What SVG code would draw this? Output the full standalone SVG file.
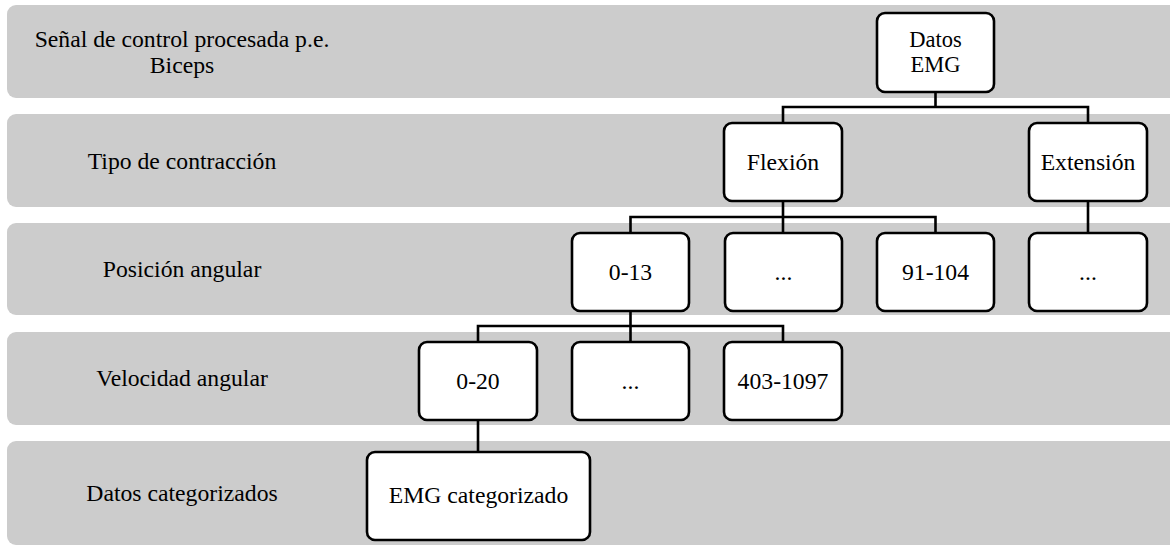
<svg xmlns="http://www.w3.org/2000/svg" width="1170" height="548" viewBox="0 0 1170 548">
  <style>
    .band { fill: #cccccc; }
    .node rect { fill: #ffffff; stroke: #000000; stroke-width: 2.6; }
    .t { font-family: 'Liberation Serif', serif; font-size: 23.7px; fill: #000000; text-anchor: middle; }
    .wire { fill: none; stroke: #000000; stroke-width: 2.6; stroke-linejoin: miter; }
  </style>

  <!-- level bands -->
  <g id="bands">
    <rect class="band" x="7" y="5" width="1180" height="93" rx="9"/>
    <rect class="band" x="7" y="114" width="1180" height="93" rx="9"/>
    <rect class="band" x="7" y="223" width="1180" height="92" rx="9"/>
    <rect class="band" x="7" y="332" width="1180" height="93" rx="9"/>
    <rect class="band" x="7" y="441" width="1180" height="104" rx="9"/>
  </g>

  <!-- level labels -->
  <g id="labels" font-family="Liberation Serif, serif">
    <text class="t" x="182" y="47">Señal de control procesada p.e.</text>
    <text class="t" x="182" y="73">Biceps</text>
    <text class="t" x="182" y="169">Tipo de contracción</text>
    <text class="t" x="182" y="277">Posición angular</text>
    <text class="t" x="182" y="386">Velocidad angular</text>
    <text class="t" x="182" y="501">Datos categorizados</text>
  </g>

  <!-- tree connectors -->
  <g id="connectors">
    <path class="wire" d="M935.5,92 V107 M783,123 V107 H1088 V123"/>
    <path class="wire" d="M783,201 V217 M630.5,232 V217 H935.5 V232 M783,217 V232"/>
    <path class="wire" d="M1088,201 V232"/>
    <path class="wire" d="M630.5,311 V326 M478,342 V326 H783 V342 M630.5,326 V342"/>
    <path class="wire" d="M478,420 V452"/>
  </g>

  <g id="datos-emg" class="node">
    <rect x="877" y="13" width="117" height="79" rx="8"/>
    <text class="t" x="935.5" y="46.5" style="font-size:22.5px">Datos</text>
    <text class="t" x="935.5" y="72" style="font-size:22.5px">EMG</text>
  </g>

  <g id="flexion" class="node">
    <rect x="724" y="123" width="118" height="78" rx="8"/>
    <text class="t" x="783" y="170">Flexión</text>
  </g>
  <g id="extension" class="node">
    <rect x="1029" y="123" width="118" height="78" rx="8"/>
    <text class="t" x="1088" y="170">Extensión</text>
  </g>

  <g id="pos-0-13" class="node">
    <rect x="572" y="233" width="117" height="78" rx="8"/>
    <text class="t" x="630.5" y="280">0-13</text>
  </g>
  <g id="pos-mid" class="node">
    <rect x="725" y="233" width="117" height="78" rx="8"/>
    <text class="t" x="783.5" y="280">...</text>
  </g>
  <g id="pos-91-104" class="node">
    <rect x="877" y="233" width="117" height="78" rx="8"/>
    <text class="t" x="935.5" y="280">91-104</text>
  </g>
  <g id="pos-ext" class="node">
    <rect x="1029" y="233" width="118" height="78" rx="8"/>
    <text class="t" x="1088" y="280">...</text>
  </g>

  <g id="vel-0-20" class="node">
    <rect x="419" y="342" width="118" height="78" rx="8"/>
    <text class="t" x="478" y="389">0-20</text>
  </g>
  <g id="vel-mid" class="node">
    <rect x="572" y="342" width="117" height="78" rx="8"/>
    <text class="t" x="630.5" y="389">...</text>
  </g>
  <g id="vel-403-1097" class="node">
    <rect x="724" y="342" width="118" height="78" rx="8"/>
    <text class="t" x="783" y="389">403-1097</text>
  </g>

  <g id="emg-categorizado" class="node">
    <rect x="367" y="452" width="223" height="88" rx="8"/>
    <text class="t" x="478.5" y="503">EMG categorizado</text>
  </g>
</svg>
